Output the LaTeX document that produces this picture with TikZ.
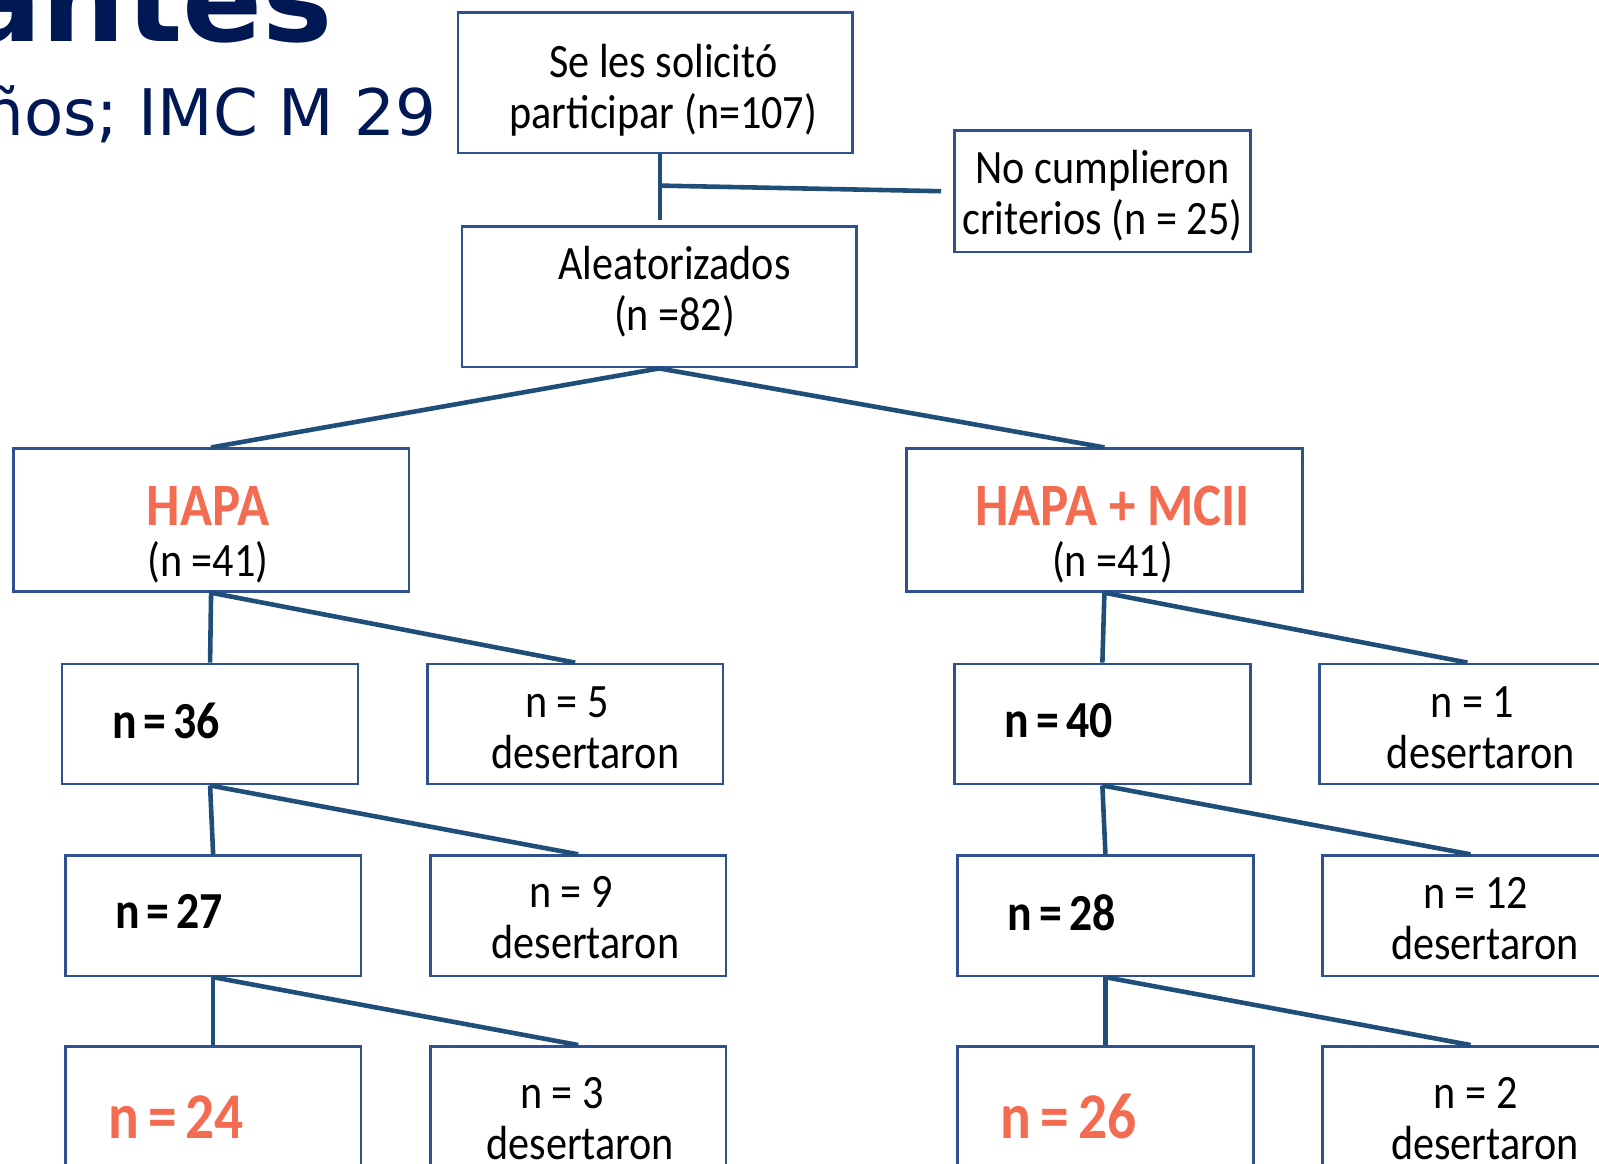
\documentclass[tikz,border=0pt]{standalone}
\usepackage{fontspec}
\setmainfont{Carlito}[FakeStretch=0.88]
\newfontfamily\titlefont{DejaVu Sans}
\definecolor{boxline}{RGB}{47,82,143}
\definecolor{linkblue}{RGB}{31,78,121}
\definecolor{hapaorange}{RGB}{243,107,80}
\definecolor{titlenavy}{RGB}{0,24,84}

\begin{document}
\begin{tikzpicture}[x=1pt,y=-1pt]
    \tikzstyle{box} = [draw=boxline, line width=2.5pt, fill=white, rectangle, inner sep=0pt]
    \tikzstyle{bigbox} = [box, minimum width=387pt, minimum height=138pt]
    \tikzstyle{armbox} = [box, minimum width=388pt, minimum height=140pt]
    \tikzstyle{dropbox} = [box, minimum width=290pt, minimum height=118pt]
    \tikzstyle{txt} = [align=center, inner sep=0pt, font=\fontsize{47}{50}\selectfont]
    \tikzstyle{keeptxt} = [inner sep=0pt, anchor=west, font=\fontsize{51}{51}\selectfont\bfseries]
    \tikzstyle{finaltxt} = [inner sep=0pt, anchor=west, text=hapaorange, font=\fontsize{64}{64}\selectfont\bfseries]
    \tikzstyle{link} = [draw=linkblue, line width=4.5pt]
    \tikzstyle{heading} = [text=titlenavy, inner sep=0pt, anchor=base east]
    \useasboundingbox (0,0) rectangle (1568,1141);
    \clip (0,0) rectangle (1568,1141);

    % slide title behind the chart
    \node[heading, font=\titlefont\fontsize{116}{116}\selectfont\bfseries] (title) at (327,41) {antes};
    \node[heading, font=\titlefont\fontsize{63}{63}\selectfont] (subtitle) at (428,133) {ños; IMC M 29};

    \node[bigbox, label={[txt, xshift=8pt, yshift=-7pt]center:{Se les solicitó\\participar (n=107)}}] (asked) at (642.5,81) {};
    \node[dropbox, minimum height=119pt, label={[txt, yshift=-4pt]center:{No cumplieron\\criterios (n = 25)}}] (excl) at (1081,187.5) {};
    \node[bigbox, label={[txt, xshift=15pt, yshift=5pt]center:{Aleatorizados\\(n =82)}}] (rand) at (646.5,291) {};
    \coordinate (split) at (647,182);
    \coordinate (exclend) at ([xshift=-12pt]excl.west);
    \draw[link] (split |- asked.south) -- ([yshift=5pt]split |- rand.north);
    \draw[link] (split) -- (exclend);

    \node[armbox, label={[txt, xshift=-3pt, yshift=-14pt]center:{{\color{hapaorange}\fontsize{59}{59}\selectfont\bfseries HAPA}\\(n =41)}}] (hapa) at (207,510) {};
    \node[armbox, label={[txt, xshift=8pt, yshift=-14pt]center:{{\color{hapaorange}\fontsize{59}{59}\selectfont\bfseries HAPA + MCII}\\(n =41)}}] (mcii) at (1083,510) {};
    \draw[link] (rand.south) -- (hapa.north);
    \draw[link] (rand.south) -- (mcii.north);

    % kept participants: bold count, set to the left
    \foreach \nm/\x/\y/\k/\dy in {n36/206/710/36/3, n27/209/898/27/4, n40/1081/710/40/3, n28/1084/898/28/3}
        \node[dropbox, label={[keeptxt, xshift=50pt, yshift=\dy pt]west:{n\hspace{7pt}=\hspace{7pt}\k}}] (\nm) at (\x,\y) {};
    \foreach \nm/\x/\k in {n24/209/24, n26/1084/26}
        \node[dropbox, minimum height=128pt, label={[finaltxt, xshift=43pt, yshift=-5pt]west:{n\hspace{9pt}=\hspace{9pt}\k}}] (\nm) at (\x,1090) {};
    % drop-outs
    \foreach \nm/\x/\y/\h/\k/\dx/\dy/\w in {d5/564/710/118/5/-8/-3.5/36, d9/567/898/118/9/-7/-2/28, d3/567/1090/128/3/-16/-7/36, d1/1439/710/118/1/5/-3.5/16, d12/1442/898/118/12/5/-3/18, d2/1442/1090/128/2/5/-7/18}
        \node[dropbox, minimum height=\h pt, label={[txt, xshift=\dx pt, yshift=\dy pt]center:{n = \k\\\hspace*{\w pt}desertaron}}] (\nm) at (\x,\y) {};

    \foreach \a/\b/\c in {hapa/n36/d5, n36/n27/d9, n27/n24/d3, mcii/n40/d1, n40/n28/d12, n28/n26/d2} {
        \draw[link] (\a.south) -- (\b.north);
        \draw[link] (\a.south) -- (\c.north);
    }
\end{tikzpicture}
\end{document}
